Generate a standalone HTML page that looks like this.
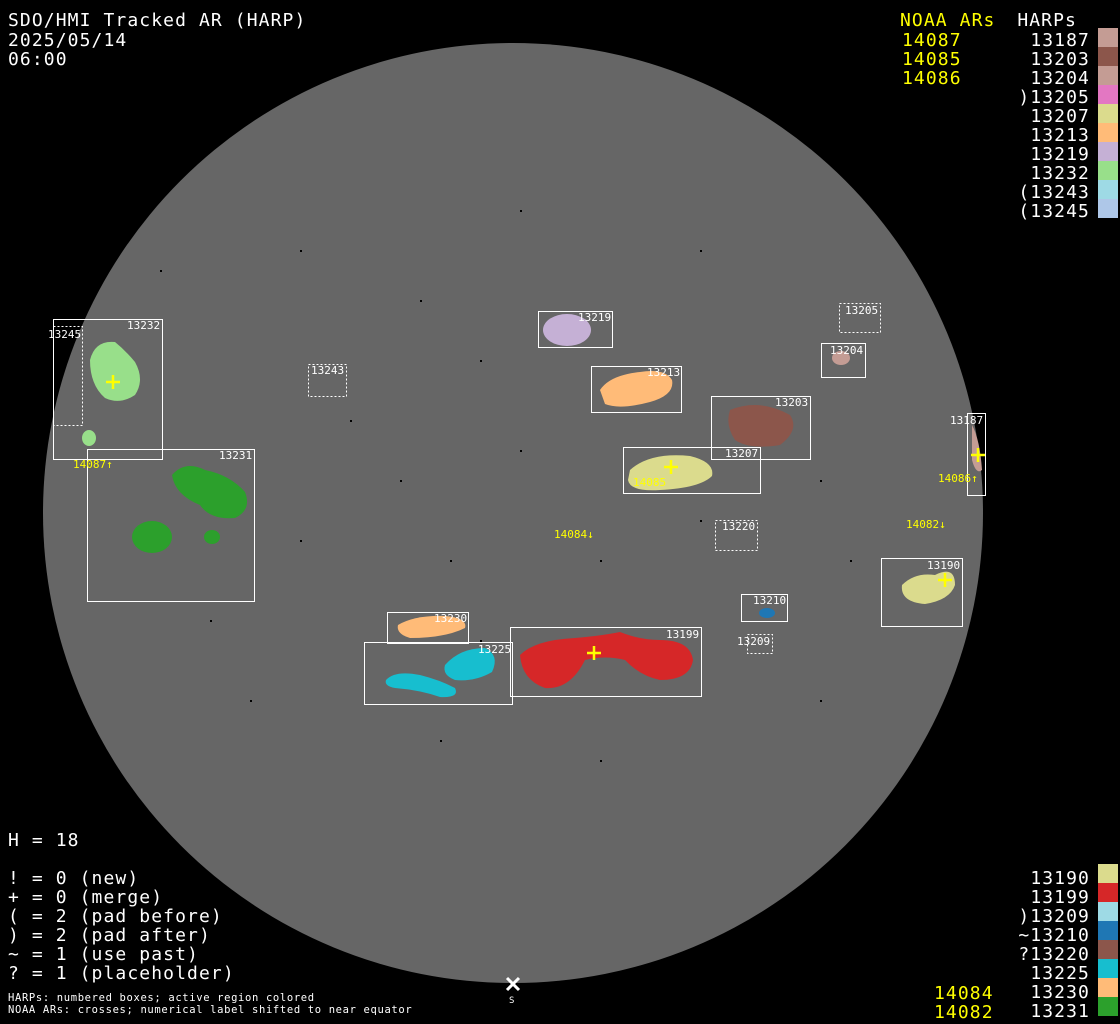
<!DOCTYPE html>
<html><head><meta charset="utf-8"><style>
html,body{margin:0;padding:0;background:#000;}
svg{display:block}
text{font-family:"DejaVu Sans Mono","Liberation Mono",monospace;}
.big{letter-spacing:1.1px}
.sm{letter-spacing:0.65px}
</style></head><body>
<svg width="1120" height="1024" viewBox="0 0 1120 1024" xmlns="http://www.w3.org/2000/svg">
<rect width="1120" height="1024" fill="#000"/>
<circle cx="513" cy="513" r="470" fill="#666"/>
<g fill="#000">
<rect x="160" y="270" width="2" height="2"/><rect x="300" y="250" width="2" height="2"/><rect x="420" y="300" width="2" height="2"/>
<rect x="480" y="360" width="2" height="2"/><rect x="350" y="420" width="2" height="2"/><rect x="400" y="480" width="2" height="2"/>
<rect x="300" y="540" width="2" height="2"/><rect x="450" y="560" width="2" height="2"/><rect x="600" y="560" width="2" height="2"/>
<rect x="700" y="520" width="2" height="2"/><rect x="820" y="480" width="2" height="2"/><rect x="850" y="560" width="2" height="2"/>
<rect x="250" y="700" width="2" height="2"/><rect x="600" y="760" width="2" height="2"/><rect x="820" y="700" width="2" height="2"/>
<rect x="520" y="210" width="2" height="2"/><rect x="700" y="250" width="2" height="2"/><rect x="210" y="620" width="2" height="2"/>
<rect x="520" y="450" width="2" height="2"/><rect x="480" y="640" width="2" height="2"/><rect x="440" y="740" width="2" height="2"/>
</g>
<g>
<ellipse cx="567" cy="330" rx="24" ry="16" fill="#c5b0d5"/>
<path d="M600 390 Q610 375 640 372 Q665 368 672 380 Q675 395 650 402 Q620 410 605 404 Z" fill="#ffbb78"/>
<path d="M730 410 Q760 398 790 415 Q800 430 780 445 Q750 450 735 440 Q725 425 730 410 Z" fill="#8c564b"/>
<ellipse cx="841" cy="358" rx="9" ry="7" fill="#c49c94"/>
<path d="M630 470 Q650 452 690 456 Q715 462 712 476 Q700 488 660 490 Q630 492 628 480 Z" fill="#dbdb8d"/>
<path d="M972 425 Q980 440 982 470 Q976 475 972 460 Z" fill="#c49c94"/>
<path d="M90 360 Q95 340 115 342 Q125 350 135 362 Q145 380 135 395 Q120 405 105 398 Q90 385 90 360 Z" fill="#98df8a"/>
<ellipse cx="89" cy="438" rx="7" ry="8" fill="#98df8a"/>
<path d="M172 475 Q185 460 205 470 Q230 475 245 492 Q252 510 235 518 Q210 520 200 505 Q175 495 172 475 Z" fill="#2ca02c"/>
<ellipse cx="152" cy="537" rx="20" ry="16" fill="#2ca02c"/>
<ellipse cx="212" cy="537" rx="8" ry="7" fill="#2ca02c"/>
<path d="M902 585 Q915 572 935 575 Q955 565 955 585 Q950 600 925 604 Q900 602 902 585 Z" fill="#dbdb8d"/>
<ellipse cx="767" cy="613" rx="8" ry="5" fill="#1f77b4"/>
<path d="M398 625 Q415 615 445 616 Q468 618 465 628 Q445 638 410 638 Q396 634 398 625 Z" fill="#ffbb78"/>
<path d="M445 665 Q460 648 485 648 Q500 655 492 672 Q475 682 455 680 Q442 675 445 665 Z" fill="#17becf"/>
<path d="M386 680 Q395 670 420 675 Q440 680 455 688 Q460 698 440 697 Q420 690 395 688 Q384 686 386 680 Z" fill="#17becf"/>
<path d="M520 655 Q535 640 575 638 Q600 636 620 632 Q640 640 660 640 Q690 640 693 660 Q690 680 660 680 Q640 676 625 660 Q605 655 585 660 Q570 690 545 688 Q522 680 520 655 Z" fill="#d62728"/>
</g>
<g fill="none" stroke="#fff" stroke-width="1">
<rect x="538.5" y="311.5" width="74" height="36"/>
<rect x="591.5" y="366.5" width="90" height="46"/>
<rect x="711.5" y="396.5" width="99" height="63"/>
<rect x="821.5" y="343.5" width="44" height="34"/>
<rect x="623.5" y="447.5" width="137" height="46"/>
<rect x="967.5" y="413.5" width="18" height="82"/>
<rect x="53.5" y="319.5" width="109" height="140"/>
<rect x="87.5" y="449.5" width="167" height="152"/>
<rect x="881.5" y="558.5" width="81" height="68"/>
<rect x="387.5" y="612.5" width="81" height="31"/>
<rect x="364.5" y="642.5" width="148" height="62"/>
<rect x="510.5" y="627.5" width="191" height="69"/>
<rect x="741.5" y="594.5" width="46" height="27"/>
</g>
<g fill="none" stroke="#fff" stroke-width="1" stroke-dasharray="2,2">
<rect x="839.5" y="303.5" width="41" height="29"/>
<rect x="308.5" y="364.5" width="38" height="32"/>
<rect x="53.5" y="326.5" width="29" height="99"/>
<rect x="715.5" y="520.5" width="42" height="30"/>
<rect x="747.5" y="634.5" width="25" height="19"/>
</g>
<g fill="#fff" font-size="11">
<text x="578" y="321">13219</text><text x="647" y="376">13213</text><text x="775" y="406">13203</text>
<text x="830" y="354">13204</text><text x="845" y="314">13205</text><text x="725" y="457">13207</text>
<text x="950" y="424">13187</text><text x="127" y="329">13232</text><text x="48" y="338">13245</text>
<text x="311" y="374">13243</text><text x="219" y="459">13231</text><text x="722" y="530">13220</text>
<text x="927" y="569">13190</text><text x="753" y="604">13210</text><text x="737" y="645">13209</text>
<text x="434" y="622">13230</text><text x="478" y="653">13225</text><text x="666" y="638">13199</text>
</g>
<g fill="#ff0" font-size="11">
<text x="73" y="468">14087↑</text><text x="938" y="482">14086↑</text><text x="554" y="538">14084↓</text>
<text x="906" y="528">14082↓</text><text x="633" y="486">14085</text>
</g>
<g stroke="#ff0" stroke-width="2.5">
<path d="M106 382h14M113 375v14"/><path d="M664 467h14M671 460v14"/><path d="M971 455h14M978 448v14"/>
<path d="M587 653h14M594 646v14"/><path d="M938 580h14M945 573v14"/>
</g>
<path d="M507 978l12 12M519 978l-12 12" stroke="#fff" stroke-width="3"/>
<text x="509" y="1003" fill="#fff" font-size="9">S</text>
<g fill="#fff" font-size="18" class="big">
<text x="8" y="26">SDO/HMI Tracked AR (HARP)</text>
<text x="8" y="46">2025/05/14</text>
<text x="8" y="65">06:00</text>
<text x="8" y="846">H = 18</text>
<text x="8" y="884">! = 0 (new)</text>
<text x="8" y="903">+ = 0 (merge)</text>
<text x="8" y="922">( = 2 (pad before)</text>
<text x="8" y="941">) = 2 (pad after)</text>
<text x="8" y="960">~ = 1 (use past)</text>
<text x="8" y="979">? = 1 (placeholder)</text>
</g>
<g fill="#fff" font-size="10.5" class="sm">
<text x="8" y="1001">HARPs: numbered boxes; active region colored</text>
<text x="8" y="1013">NOAA ARs: crosses; numerical label shifted to near equator</text>
</g>
<g fill="#ff0" font-size="18" class="big">
<text x="900" y="26">NOAA ARs</text><text x="902" y="46">14087</text><text x="902" y="65">14085</text><text x="902" y="84">14086</text>
<text x="934" y="999">14084</text><text x="934" y="1018">14082</text>
</g>
<g fill="#fff" font-size="18" text-anchor="end" class="big">
<text x="1077" y="26">HARPs</text>
<text x="1090" y="46">13187</text><text x="1090" y="65">13203</text><text x="1090" y="84">13204</text><text x="1090" y="103">)13205</text>
<text x="1090" y="122">13207</text><text x="1090" y="141">13213</text><text x="1090" y="160">13219</text><text x="1090" y="179">13232</text>
<text x="1090" y="198">(13243</text><text x="1090" y="217">(13245</text>
<text x="1090" y="884">13190</text><text x="1090" y="903">13199</text><text x="1090" y="922">)13209</text><text x="1090" y="941">~13210</text>
<text x="1090" y="960">?13220</text><text x="1090" y="979">13225</text><text x="1090" y="998">13230</text><text x="1090" y="1017">13231</text>
</g>
<g>
<rect x="1098" y="28" width="20" height="19" fill="#c49c94"/><rect x="1098" y="47" width="20" height="19" fill="#8c564b"/>
<rect x="1098" y="66" width="20" height="19" fill="#c49c94"/><rect x="1098" y="85" width="20" height="19" fill="#e377c2"/>
<rect x="1098" y="104" width="20" height="19" fill="#dbdb8d"/><rect x="1098" y="123" width="20" height="19" fill="#ffbb78"/>
<rect x="1098" y="142" width="20" height="19" fill="#c5b0d5"/><rect x="1098" y="161" width="20" height="19" fill="#98df8a"/>
<rect x="1098" y="180" width="20" height="19" fill="#9edae5"/><rect x="1098" y="199" width="20" height="19" fill="#aec7e8"/>
<rect x="1098" y="864" width="20" height="19" fill="#dbdb8d"/><rect x="1098" y="883" width="20" height="19" fill="#d62728"/>
<rect x="1098" y="902" width="20" height="19" fill="#9edae5"/><rect x="1098" y="921" width="20" height="19" fill="#1f77b4"/>
<rect x="1098" y="940" width="20" height="19" fill="#8c564b"/><rect x="1098" y="959" width="20" height="19" fill="#17becf"/>
<rect x="1098" y="978" width="20" height="19" fill="#ffbb78"/><rect x="1098" y="997" width="20" height="19" fill="#2ca02c"/>
</g>
</svg>
</body></html>
